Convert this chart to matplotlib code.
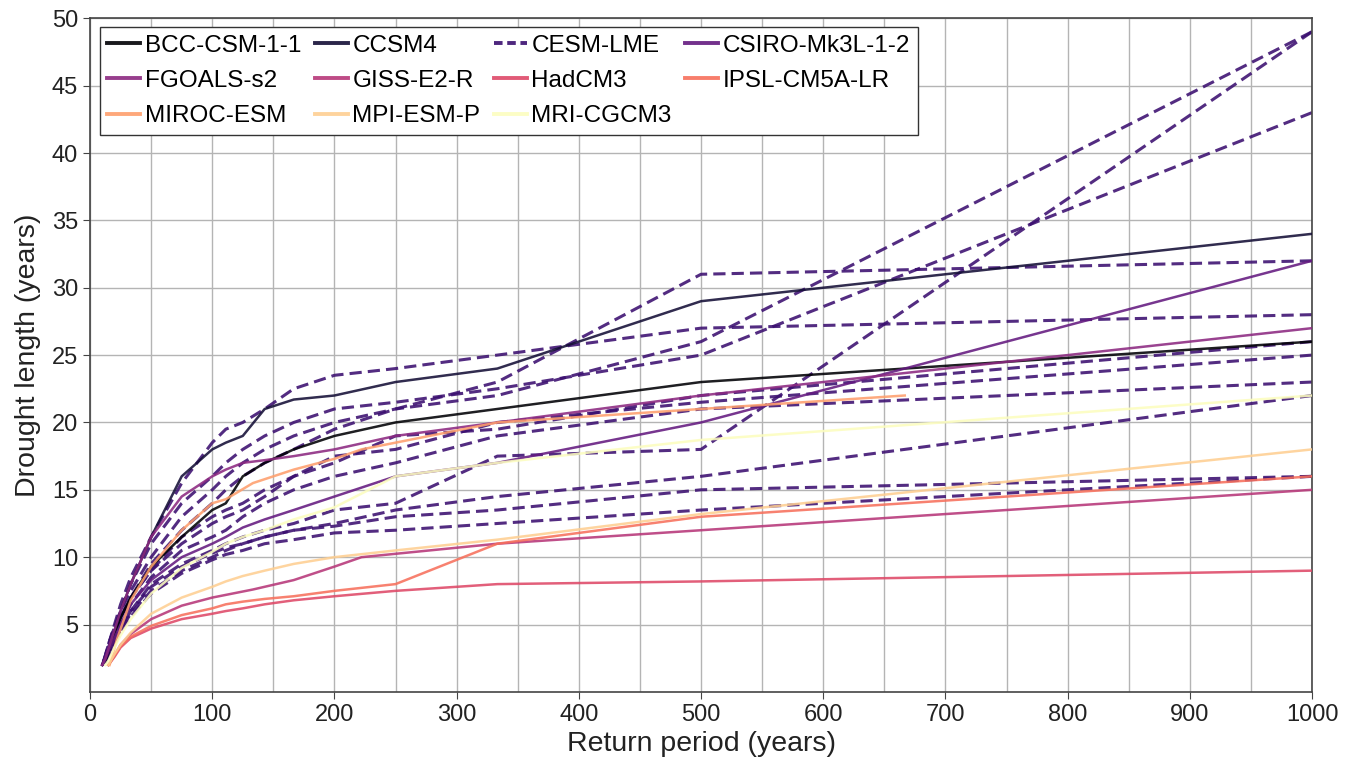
import numpy as np
import matplotlib
matplotlib.use('Agg')
import matplotlib.pyplot as plt

plt.rcParams['font.family'] = ['Liberation Sans', 'DejaVu Sans']

# models in legend order
models = ['BCC-CSM-1-1', 'CCSM4', 'CESM-LME', 'CSIRO-Mk3L-1-2', 'FGOALS-s2',
          'GISS-E2-R', 'HadCM3', 'IPSL-CM5A-LR', 'MIROC-ESM', 'MPI-ESM-P',
          'MRI-CGCM3']

# shared return period grid (years)
rp = [1000, 500, 333.3, 250, 200, 166.7, 142.9, 125, 111.1, 100,
      75, 50, 33.3, 25, 20, 15, 12.5, 10]

# drought lengths (years)
bcc = [26, 23, 21, 20, 19, 18, 17, 16, 14, 13.5, 11.5, 9.3, 7, 5.5, 4.2, 2.9, 2.3, 2]
ccsm4 = [34, 29, 24, 23, 22, 21.7, 21, 19, 18.5, 18, 16, 11.5, 8, 6, 4.5, 3, 2.4, 2]
csiro = [32, 20, 17, 16, 14.5, 13.5, 12.8, 12.2, 11.5, 11, 10, 8.3, 6.5, 5, 4, 3, 2.4, 2]
fgoals = [27, 22, 20, 19, 18, 17.5, 17.2, 17, 16.5, 16, 14.5, 11.5, 8, 6, 4.6, 3.2, 2.5, 2]
mri = [22, 18.7, 17, 16, 13.7, 12.8, 12, 11.5, 11, 10.4, 9.2, 7.3, 5.4, 4.2, 3.3, 2.3, 2, np.nan]
mpi = [18, 13.2, 11.3, 10.5, 10, 9.5, 9, 8.6, 8.2, 7.8, 7, 5.8, 4.4, 3.5, 2.8, 2, np.nan, np.nan]
ipsl = [16, 13, 11, 8, 7.5, 7.1, 6.9, 6.7, 6.5, 6.2, 5.7, 4.9, 4.1, 3.4, 2.7, 2, np.nan, np.nan]
hadcm3 = [9, 8.2, 8, 7.5, 7.1, 6.8, 6.5, 6.2, 6, 5.8, 5.4, 4.7, 4, 3.3, 2.6, 2, np.nan, np.nan]

# GISS and MIROC have their own return periods
giss_rp = [1000, 500, 333.3, 222.2, 200, 166.7, 133.3, 100, 75, 50, 33.3, 25, 20, 15]
giss = [15, 12, 11, 10, 9.3, 8.3, 7.6, 7, 6.4, 5.4, 4.3, 3.5, 2.7, 2]
miroc_rp = [666.7, 333.3, 222.2, 200, 166.7, 133.3, 111.1, 100, 75, 50, 33.3, 22, 16]
miroc = [22, 20, 18, 17.3, 16.5, 15.5, 14.3, 14, 12, 9.3, 6.8, 3.9, 2]

# CESM-LME ensemble members
cesm = [
    [32, 31, 23, 21, 19.5, 18, 17, 16, 15, 14, 12, 9.5, 7, 5.5, 4.5, 3.3, 2.6, 2],
    [28, 27, 25, 24, 23.5, 22.5, 21, 20, 19.5, 18.5, 15.5, 11.5, 8.5, 6.5, 5, 3.5, 2.7, 2],
    [49, 26, 22, 21, 20, 19, 18, 17, 16, 15, 13, 10, 7.5, 6, 4.8, 3.5, 2.7, 2],
    [43, 25, 22.5, 21.5, 21, 20, 19, 18, 17, 16, 14, 11, 8, 6, 4.8, 3.5, 2.6, 2],
    [26, 22, 19.5, 19, 17, 16, 15, 14, 13.5, 13, 11.5, 9, 7, 5.5, 4.3, 3.2, 2.5, 2],
    [25, 21.5, 20, 18, 17.5, 16, 14.5, 13.5, 13, 12.5, 11, 9, 7, 5.5, 4.5, 3.3, 2.6, 2],
    [23, 21, 19, 17, 16, 15, 14, 13, 12, 11.5, 10.5, 8.5, 6.5, 5, 4, 3, 2.4, 2],
    [49, 18, 17.5, 14, 13.5, 12.5, 12, 11.5, 11, 10.5, 9.5, 8, 6, 4.8, 3.8, 3, 2.4, 2],
    [22, 16, 14.5, 13.5, 12.5, 12, 11.5, 11, 10.7, 10.3, 9.3, 7.8, 6, 4.7, 3.7, 2.9, 2.3, 2],
    [16, 15, 13.5, 13, 12.3, 12, 11.5, 11, 10.5, 10, 9, 7.5, 5.8, 4.6, 3.6, 2.8, 2.2, 2],
    [16, 13.5, 12.5, 12, 11.8, 11.3, 11, 10.5, 10.2, 9.8, 8.8, 7.3, 5.6, 4.5, 3.5, 2.7, 2.2, 2],
]

colors = plt.cm.magma(np.linspace(0, 1, len(models)))

fig = plt.figure(figsize=(13.54, 7.62), dpi=100)
ax = fig.add_axes([0.0665, 0.092, 0.9025, 0.884])

for run in cesm:
    ax.plot(rp, run, color=colors[2], lw=2.2, ls=(0, (4, 2)), alpha=0.88, zorder=2)

series = [
    (0, rp, bcc), (1, rp, ccsm4), (3, rp, csiro), (4, rp, fgoals),
    (5, giss_rp, giss), (6, rp, hadcm3), (7, rp, ipsl), (8, miroc_rp, miroc),
    (9, rp, mpi), (10, rp, mri),
]
for i, x, y in series:
    ax.plot(x, y, color=colors[i], lw=1.8, alpha=0.88, zorder=3)

# legend handles, reordered so the 4 columns read row by row
handles = []
for i, name in enumerate(models):
    ls = (0, (2.2, 1.2)) if i == 2 else '-'
    h, = ax.plot([], [], color=colors[i], lw=2.8, ls=ls, alpha=0.9, label=name)
    handles.append(h)
order = [0, 4, 8, 1, 5, 9, 2, 6, 10, 3, 7]
handles = [handles[k] for k in order]

leg = ax.legend(handles=handles, ncol=4, loc='upper left',
                bbox_to_anchor=(0.0082, 0.9866), prop={'size': 17.5},
                handlelength=1.35, handletextpad=0.2, columnspacing=0.55,
                labelspacing=0.55, borderpad=0.3, borderaxespad=0,
                fancybox=False, framealpha=1)
leg.get_frame().set_edgecolor('#333333')
leg.get_frame().set_linewidth(1.0)

ax.set_xlim(0, 1000)
ax.set_ylim(0, 50)
ax.set_xticks(np.arange(0, 1001, 100))
ax.set_xticks(np.arange(50, 1000, 100), minor=True)
ax.set_yticks(np.arange(5, 51, 5))
ax.grid(True, which='both', color='#b4b4b4', lw=1.0)
ax.set_axisbelow(True)
ax.tick_params(axis='both', which='major', direction='out', length=5,
               labelsize=17, color='#444444', labelcolor='#222222')
ax.tick_params(axis='x', which='minor', length=0)
for sp in ax.spines.values():
    sp.set_color('#444444')
    sp.set_linewidth(1.2)

ax.set_xlabel('Return period (years)', fontsize=20.5, labelpad=4, color='#222222')
ax.set_ylabel('Drought length (years)', fontsize=20.5, labelpad=8, color='#222222')

fig.savefig('out.png', dpi=100)
